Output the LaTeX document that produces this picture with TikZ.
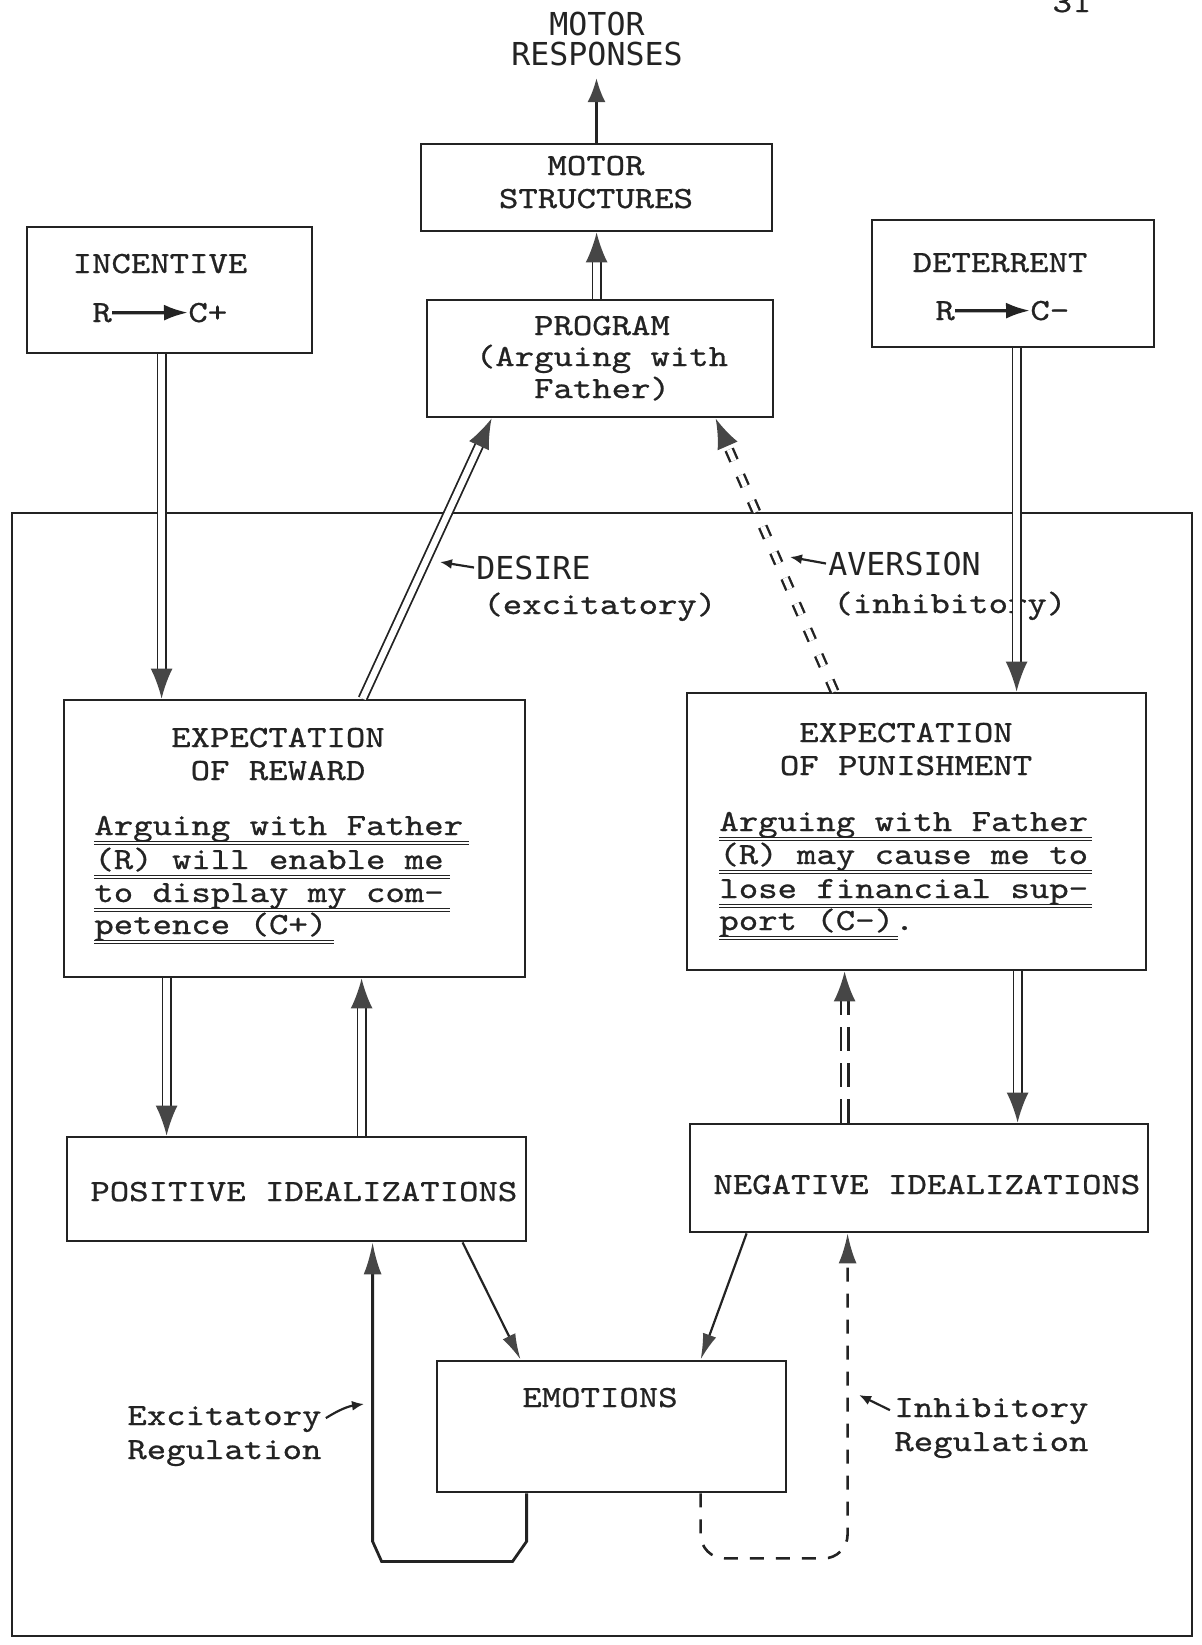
\documentclass[tikz,border=0pt]{standalone}
\usepackage{fontspec}
\newfontfamily\tw{lmmono10-regular.otf}[FakeStretch=1.2,FakeBold=0.8]
\newfontfamily\gothic{DejaVu Sans Mono}
\usetikzlibrary{arrows.meta,calc}
\definecolor{ink}{RGB}{35,35,35}
\definecolor{tipc}{RGB}{70,70,70}
\begin{document}
\begin{tikzpicture}[x=0.5pt,y=-0.5pt,
  box/.style 2 args={draw=ink,line width=1.4pt,inner sep=0pt,minimum width=#1*0.5pt,minimum height=#2*0.5pt},
  outerbox/.style 2 args={draw=ink,line width=1.1pt,inner sep=0pt,minimum width=#1*0.5pt,minimum height=#2*0.5pt},
  txt/.style={inner sep=0pt,text=ink,font=\tw\fontsize{15.4}{16.5}\selectfont},
  mtxt/.style={txt,align=center,font=\tw\fontsize{15.4}{15.5}\selectfont},
  gtxt/.style={inner sep=0pt,text=ink,font=\gothic\fontsize{15.8}{15}\selectfont},
  uline/.style={draw=ink,line width=0.45pt,double=white,double distance=0.7pt},
  darrow/.style={draw=ink,line width=0.9pt,double=white,double distance=3.2pt,-{Latex[length=15pt,width=11pt,color=tipc]}},
  ddarrow/.style={darrow,dashed},
  sarrow/.style={draw=ink,line width=1.1pt,-{Latex[length=13pt,width=7pt,color=tipc]}},
  rarrow/.style={draw=ink,line width=1.6pt,-{Latex[length=12pt,width=8pt,color=ink]}},
  lblarrow/.style={draw=ink,line width=1.1pt,-{Latex[length=6pt,width=5pt,color=ink]}}
]
\useasboundingbox (0,0) rectangle (1202,1645);

% boxes
\node[box={351}{87}] (mstruct) at (596.5,187.5) {};
\node[box={285}{126}] (incentive) at (169.5,290) {};
\node[box={346}{117}] (program) at (600,358.5) {};
\node[box={282}{127}] (deterrent) at (1013,283.5) {};
\node[outerbox={1180}{1123}] (outer) at (602,1074.5) {};
\node[box={461}{277}] (expr) at (294.5,838.5) {};
\node[box={459}{277}] (expp) at (916.5,831.5) {};
\node[box={459}{104}] (posi) at (296.5,1189) {};
\node[box={458}{108}] (negi) at (919,1178) {};
\node[box={349}{131}] (emo) at (611.5,1426.5) {};

% texts
\node[txt,anchor=base] (pg) at (1072,12) {31};
\node[gtxt,align=center,anchor=base] (resp) at (597,65) {MOTOR\\RESPONSES};
\node[mtxt,anchor=base] (ms) at (596,208) {MOTOR\\[1pt]STRUCTURES};
\node[txt,anchor=base] (inc) at (160,273) {INCENTIVE};
\node[txt,anchor=base west] (incR) at (92,322) {R};
\node[txt,anchor=base west] (incC) at (188,322) {C+};
\node[txt,anchor=base] (det) at (1000,272) {DETERRENT};
\node[txt,anchor=base west] (detR) at (935,320) {R};
\node[txt,anchor=base west] (detC) at (1030,320) {C-};
\node[mtxt,anchor=base] (pgm) at (602,398) {PROGRAM\\(Arguing with\\[0.5pt]Father)};
\node[gtxt,anchor=base west] (des) at (476,579) {DESIRE};
\node[txt,anchor=base west] (des2) at (483,614) {(excitatory)};
\node[gtxt,anchor=base west] (av) at (828,575) {AVERSION};
\node[txt,anchor=base west] (av2) at (833,613) {(inhibitory)};

\node[mtxt,anchor=base] (er) at (278,780) {EXPECTATION\\[1pt]OF REWARD};
\node[txt,anchor=base west] (r1) at (94,835) {Arguing with Father};
\node[txt,anchor=base west] (r2) at (94,869) {(R) will enable me};
\node[txt,anchor=base west] (r3) at (94,902) {to display my com-};
\node[txt,anchor=base west] (r4) at (94,934) {petence (C+)};
\foreach \n in {r1,r2,r3,r4}
  \draw[uline] ($(\n.base west)+(0,8)$) -- ($(\n.base east)+(6,8)$);

\node[mtxt,anchor=base] (ep) at (906,775) {EXPECTATION\\[1pt]OF PUNISHMENT};
\node[txt,anchor=base west] (p1) at (719,831) {Arguing with Father};
\node[txt,anchor=base west] (p2) at (719,864) {(R) may cause me to};
\node[txt,anchor=base west] (p3) at (719,898) {lose financial sup-};
\node[txt,anchor=base west] (p4) at (719,930) {port (C-)};
\node[txt,anchor=base west] (p4dot) at (p4.base east) {.};
\foreach \n in {p1,p2,p3,p4}
  \draw[uline] ($(\n.base west)+(0,8)$) -- ($(\n.base east)+(4,8)$);

\node[txt,anchor=base west] (pitxt) at (90,1201) {POSITIVE IDEALIZATIONS};
\node[txt,anchor=base west] (nitxt) at (713,1194) {NEGATIVE IDEALIZATIONS};
\node[txt,anchor=base] (emtxt) at (600,1407) {EMOTIONS};
\node[mtxt,align=left,anchor=base west] (exl) at (127,1459) {Excitatory\\[1.5pt]Regulation};
\node[mtxt,align=left,anchor=base west] (ihl) at (894,1451) {Inhibitory\\[1.5pt]Regulation};

% inline arrows R -> C
\draw[rarrow] (incR.east) -- (incC.west);
\draw[rarrow] (detR.east) -- (detC.west);

% connectors
\coordinate (resptip) at (596.5,78);
\draw[sarrow,line width=1.4pt,-{Latex[length=12pt,width=9pt,color=tipc]}] (mstruct.north) -- (resptip);
\draw[darrow] ($(program.north west)+(171,0)$) -- ($(mstruct.south west)+(177,0)$);
\draw[darrow] ($(incentive.south west)+(136,0)$) -- ($(expr.north west)+(99,0)$);
\draw[darrow] ($(deterrent.south west)+(146,0)$) -- ($(expp.north west)+(331,0)$);
\draw[darrow] ($(expr.north west)+(300,0)$) -- ($(program.south west)+(66,0)$);
\draw[ddarrow,line width=1.2pt,double distance=2.6pt,dash pattern=on 6pt off 8pt] ($(expp.north west)+(149,0)$) -- ($(program.south west)+(290,0)$);
\draw[darrow] ($(expr.south west)+(104,0)$) -- ($(posi.north west)+(101,0)$);
\draw[darrow] ($(posi.north west)+(296,0)$) -- ($(expr.south west)+(299,0)$);
\draw[darrow] ($(expp.south west)+(332,0)$) -- ($(negi.north west)+(329,0)$);
\draw[ddarrow,line width=1.1pt,double distance=2.8pt,dash pattern=on 12pt off 6pt] ($(negi.north west)+(156,0)$) -- ($(expp.south west)+(159,0)$);
\draw[sarrow] ($(posi.south west)+(397,0)$) -- ($(emo.north west)+(85,0)$);
\draw[sarrow] ($(negi.south west)+(58,0)$) -- ($(emo.north west)+(265,0)$);
\draw[sarrow,line width=1.4pt,-{Latex[length=16pt,width=9pt,color=tipc]}]
  ($(emo.south west)+(91,0)$) -- ++(0,48) -- ++(-14,20) -- ++(-131,0) -- ++(-9,-20) -- ($(posi.south west)+(307,0)$);
\draw[sarrow,line width=1.3pt,dash pattern=on 7pt off 6pt,rounded corners=12pt,-{Latex[length=15pt,width=9pt,color=tipc]}]
  ($(emo.south west)+(265,0)$) -- ++(0,65) -- ++(147,0) -- ($(negi.south west)+(159,0)$);

% label pointers
\coordinate (dsa) at (440,562);
\coordinate (ava) at (790,557);
\coordinate (exa) at (364,1404);
\coordinate (iha) at (859,1395);
\draw[lblarrow] ([xshift=-1pt]des.west) -- (dsa);
\draw[lblarrow] ([xshift=-1pt]av.west) -- (ava);
\draw[lblarrow] ([xshift=2pt,yshift=9pt]exl.east) to[bend left=12] (exa);
\draw[lblarrow] ([xshift=-2pt,yshift=9pt]ihl.west) -- (iha);
\end{tikzpicture}
\end{document}
